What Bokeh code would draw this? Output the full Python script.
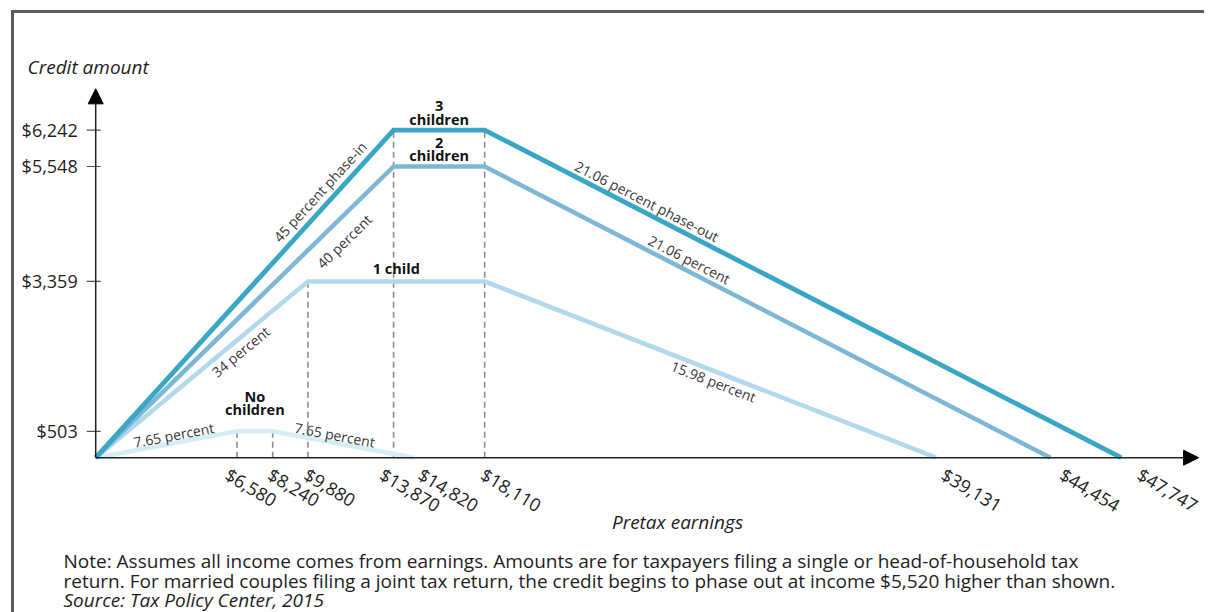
import math
from bokeh.plotting import figure
from bokeh.models import ColumnDataSource, Arrow, NormalHead, Label
from bokeh.core.properties import value
from bokeh.embed import file_html
from bokeh.resources import INLINE

# ---------------- data ----------------
series_names = ["No\nchildren", "1 child", "2\nchildren", "3\nchildren"]
no_children_earnings = [0, 6580, 8240, 14820]
no_children_credit = [0, 503, 503, 0]
one_child_earnings = [0, 9880, 18110, 39131]
one_child_credit = [0, 3359, 3359, 0]
two_children_earnings = [0, 13870, 18110, 44454]
two_children_credit = [0, 5548, 5548, 0]
three_children_earnings = [0, 13870, 18110, 47747]
three_children_credit = [0, 6242, 6242, 0]

rate_texts = ["7.65 percent", "7.65 percent", "34 percent", "40 percent",
              "45 percent phase-in", "15.98 percent", "21.06 percent",
              "21.06 percent phase-out"]
rate_series = [0, 0, 1, 2, 3, 1, 2, 3]
rate_segment = [0, 2, 0, 0, 0, 2, 2, 2]

note_lines = [
    "Note: Assumes all income comes from earnings. Amounts are for taxpayers filing a single or head-of-household tax",
    "return. For married couples filing a joint tax return, the credit begins to phase out at income $5,520 higher than shown.",
    "Source: Tax Policy Center, 2015",
]
y_title = "Credit amount"
x_title = "Pretax earnings"

# ---------------- style / layout ----------------
FONT = "Open Sans"
colors = ["#d6edf6", "#b2d8ec", "#7cb7d6", "#3aa6c5"]
widths = [4.5, 4.5, 4.5, 4.8]
label_offsets = [-12, -3, -1, -1]
rate_frac = [0.563, 0.429, 0.65, 0.79, 0.785, 0.515, 0.353, 0.247]
rate_dist = [8, 8, -11, -19, 13, -10, 11, 11]
xtick_dx = [-10, -3, -2, -12, 6, -2, 7, 11, 18]   # per-label nudges (px)

BORDER = 3
CW, CH = 1190, 599                  # drawing area inside the border
W, H = CW + BORDER, CH + BORDER
KX, KY = 0.021424, 0.05223          # px per dollar
OX, OY = 81, 442                    # origin position inside drawing area (px)
X_MIN, X_MAX = -OX / KX, (CW - OX) / KX
Y_MIN, Y_MAX = -(CH - OY) / KY, OY / KY
X_ARROW, Y_ARROW = 51350, 7027

xs_all = [no_children_earnings, one_child_earnings, two_children_earnings, three_children_earnings]
ys_all = [no_children_credit, one_child_credit, two_children_credit, three_children_credit]

p = figure(width=W, height=H, x_range=(X_MIN, X_MAX), y_range=(Y_MIN, Y_MAX),
           output_backend="svg", toolbar_location=None,
           x_axis_location=None, y_axis_location=None,
           min_border=0, min_border_left=0, min_border_right=0,
           min_border_top=0, min_border_bottom=0)
p.title.visible = False
p.styles = {"border-top": f"{BORDER}px solid #5a5a5a", "border-left": f"{BORDER}px solid #5a5a5a",
            "margin-left": "11px", "margin-top": "10px"}
p.outline_line_color = None
p.xgrid.visible = False
p.ygrid.visible = False
p.background_fill_color = "white"
p.border_fill_color = "white"

# dashed guide lines from the breakpoints
guide = {}
for xs, ys in zip(xs_all, ys_all):
    for i in (1, 2):
        guide[xs[i]] = max(guide.get(xs[i], 0), ys[i])
gx = sorted(guide)
p.segment(x0=gx, y0=[0] * len(gx), x1=gx, y1=[guide[g] for g in gx],
          line_color="#8c8c8c", line_width=1.6, line_dash="6 4")

for xs, ys, c, w in zip(xs_all, ys_all, colors, widths):
    p.line(xs, ys, line_color=c, line_width=w, line_join="miter")

# series name labels above plateaus
cat = ColumnDataSource(dict(
    x=[(xs[1] + xs[2]) / 2 for xs in xs_all],
    y=[ys[1] for ys in ys_all],
    text=series_names,
    yo=label_offsets,
))
p.text(x="x", y="y", text="text", y_offset="yo", source=cat,
       text_font=value(FONT), text_font_size="14.5px", text_font_style="bold",
       text_align="center", text_baseline="bottom", text_line_height=0.72,
       text_color="#111111")

# rate labels along segments
rx, ry, ra, rxo, ryo = [], [], [], [], []
for s, g, f, d in zip(rate_series, rate_segment, rate_frac, rate_dist):
    x0, x1 = xs_all[s][g], xs_all[s][g + 1]
    y0, y1 = ys_all[s][g], ys_all[s][g + 1]
    a = math.atan2((y1 - y0) * KY, (x1 - x0) * KX)
    rx.append(x0 + f * (x1 - x0))
    ry.append(y0 + f * (y1 - y0))
    ra.append(a)
    rxo.append(-d * math.sin(a))
    ryo.append(-d * math.cos(a))
rates = ColumnDataSource(dict(x=rx, y=ry, text=rate_texts, angle=ra, xo=rxo, yo=ryo))
p.text(x="x", y="y", text="text", angle="angle", x_offset="xo", y_offset="yo",
       source=rates, text_font=value(FONT), text_font_size="14px",
       text_align="center", text_baseline="middle", text_color="#383838")

# axes drawn with arrows
p.add_layout(Arrow(end=NormalHead(size=15, fill_color="black", line_color="black"),
                   x_start=0, y_start=0, x_end=X_ARROW, y_end=0,
                   line_color="#222222", line_width=1.5))
p.add_layout(Arrow(end=NormalHead(size=15, fill_color="black", line_color="black"),
                   x_start=0, y_start=0, x_end=0, y_end=Y_ARROW,
                   line_color="#222222", line_width=1.5))

x_ticks = sorted({x for xs in xs_all for x in xs if x > 0})
y_ticks = sorted({y for ys in ys_all for y in ys if y > 0})

# y ticks and labels
p.segment(x0=[-9 / KX] * len(y_ticks), y0=y_ticks, x1=[5 / KX] * len(y_ticks), y1=y_ticks,
          line_color="#555555", line_width=1.2)
p.text(x=[0] * len(y_ticks), y=y_ticks, text=[f"${t:,}" for t in y_ticks],
       x_offset=-18, text_font=value(FONT), text_font_size="18px",
       text_align="right", text_baseline="middle", text_color="#1e1e1e")

# x tick labels (rotated)
p.text(x=x_ticks, y=[0] * len(x_ticks), text=[f"${t:,}" for t in x_ticks],
       x_offset=xtick_dx, y_offset=15, angle=-0.54,
       text_font=value(FONT), text_font_size="18px",
       text_align="left", text_baseline="middle", text_color="#1e1e1e")

# titles & notes (screen units, relative to the plot's left/bottom)
p.add_layout(Label(x=13, y=549, x_units="screen", y_units="screen", text=y_title,
                   text_font=FONT, text_font_size="19px", text_font_style="italic",
                   text_align="left", text_baseline="middle", text_color="#1e1e1e"))
p.add_layout(Label(x=663, y=94, x_units="screen", y_units="screen", text=x_title,
                   text_font=FONT, text_font_size="19px", text_font_style="italic",
                   text_align="center", text_baseline="middle", text_color="#1e1e1e"))
note_y = [54.5, 34.5, 16]
note_style = ["normal", "normal", "italic"]
for t, yy, st in zip(note_lines, note_y, note_style):
    p.add_layout(Label(x=49, y=yy, x_units="screen", y_units="screen", text=t,
                       text_font=FONT, text_font_size="19px", text_font_style=st,
                       text_align="left", text_baseline="alphabetic", text_color="#1e1e1e"))

open("out.html", "w").write(file_html(p, INLINE))
